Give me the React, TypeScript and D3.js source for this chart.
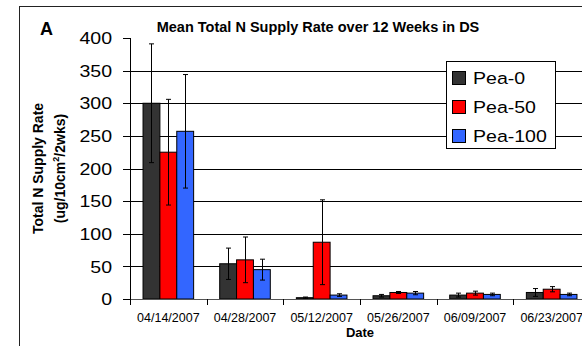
import React from "react";
import * as d3 from "d3";

const categories = ["04/14/2007", "04/28/2007", "05/12/2007", "05/26/2007", "06/09/2007", "06/23/2007"];
const seriesNames = ["Pea-0", "Pea-50", "Pea-100"];
const seriesColors = ["#333333", "#ff0000", "#3366ff"];
const pea0 = [300, 54, 2, 5, 6, 10];
const pea50 = [225, 60, 87, 10, 9, 15];
const pea100 = [257, 45, 6, 9, 7, 7];
const pea0Err = [91, 24, 1, 2, 3, 6];
const pea50Err = [81, 35, 65, 1.5, 3, 4];
const pea100Err = [87, 16, 2, 2.5, 2, 2];
const yTicks = [0, 50, 100, 150, 200, 250, 300, 350, 400];

const values = [pea0, pea50, pea100];
const errors = [pea0Err, pea50Err, pea100Err];

export default function App() {
  const W = 582, H = 346;
  const left = 130, right = 590, top = 38, bottom = 299;
  const x = d3.scaleBand().domain(categories).range([left, right]).paddingInner(0).paddingOuter(0);
  const bw = x.bandwidth();
  const groupPad = bw * 0.17;
  const xs = d3.scaleBand().domain(seriesNames).range([groupPad, bw - groupPad]).padding(0);
  const y = d3.scaleLinear().domain([0, 400]).range([bottom, top]);
  const font = "'Liberation Sans', Arial, sans-serif";
  const sx = 1.15;

  return (
    <svg width={W} height={H} style={{ position: "absolute", left: 0, top: 0, display: "block" }} fontFamily={font}>
      <rect x={0} y={0} width={W} height={H} fill="#fff" />
      <rect x={19.5} y={6.5} width={700} height={400} fill="none" stroke="#222" strokeWidth={1} />
      {/* gridlines */}
      {yTicks.filter(t => t > 0 && t < 400).map(t => (
        <line key={t} x1={left} x2={right} y1={Math.round(y(t)) + 0.5} y2={Math.round(y(t)) + 0.5} stroke="#000" strokeWidth={1} />
      ))}
      {/* bars */}
      {categories.map((c, ci) => (
        <g key={c}>
          {seriesNames.map((s, si) => {
            const bx = (x(c) as number) + (xs(s) as number);
            const v = values[si][ci];
            return (
              <rect key={s} x={bx} y={y(v)} width={xs.bandwidth()} height={bottom - y(v)} fill={seriesColors[si]} stroke="#000" strokeWidth={1} />
            );
          })}
        </g>
      ))}
      {/* error bars */}
      {categories.map((c, ci) => (
        <g key={c + "e"}>
          {seriesNames.map((s, si) => {
            const cx = Math.round((x(c) as number) + (xs(s) as number) + xs.bandwidth() / 2) + 0.5;
            const v = values[si][ci];
            const e = errors[si][ci];
            const y1 = y(v + e), y2 = y(Math.max(0, v - e));
            return (
              <g key={s} stroke="#000" strokeWidth={1}>
                <line x1={cx} x2={cx} y1={y1} y2={y2} />
                <line x1={cx - 2.5} x2={cx + 2.5} y1={y1} y2={y1} />
                <line x1={cx - 2.5} x2={cx + 2.5} y1={y2} y2={y2} />
              </g>
            );
          })}
        </g>
      ))}
      {/* axes */}
      <line x1={left + 0.5} x2={left + 0.5} y1={top} y2={bottom} stroke="#000" />
      <line x1={left} x2={right} y1={bottom + 0.5} y2={bottom + 0.5} stroke="#555" />
      {yTicks.map(t => (
        <g key={t}>
          <line x1={left - 7} x2={left} y1={Math.round(y(t)) + 0.5} y2={Math.round(y(t)) + 0.5} stroke="#000" />
          <text transform={`translate(${left - 18},${y(t)}) scale(${sx},1)`} dy="0.36em" textAnchor="end" fontSize={17} fill="#000">{t}</text>
        </g>
      ))}
      {categories.map((c, ci) => (
        <g key={c + "t"}>
          <line x1={Math.round(x(c) as number) + 0.5} x2={Math.round(x(c) as number) + 0.5} y1={bottom} y2={bottom + 6} stroke="#000" />
          <text x={(x(c) as number) + bw / 2} y={322} textAnchor="middle" fontSize={12.5} fill="#000">{c}</text>
        </g>
      ))}
      <text x={(left + right) / 2} y={337} textAnchor="middle" fontSize={13} fontWeight="bold">Date</text>
      {/* y title */}
      <text transform={`translate(43,${(top + bottom) / 2}) rotate(-90)`} textAnchor="middle" fontSize={14} fontWeight="bold">Total N Supply Rate</text>
      <text transform={`translate(65,${(top + bottom) / 2}) rotate(-90)`} textAnchor="middle" fontSize={14} fontWeight="bold">
        (ug/10cm<tspan fontSize={9} dy={-6}>2</tspan><tspan dy={6}>/2wks)</tspan>
      </text>
      {/* title */}
      <text x={318} y={32} textAnchor="middle" fontSize={14.5} fontWeight="bold">Mean Total N Supply Rate over 12 Weeks in DS</text>
      <text x={40} y={35} fontSize={18} fontWeight="bold">A</text>
      {/* legend */}
      <rect x={446.5} y={61.5} width={109} height={87} fill="#fff" stroke="#000" />
      {seriesNames.map((s, i) => (
        <g key={s}>
          <rect x={452.5} y={71.5 + i * 29} width={13} height={13} fill={seriesColors[i]} stroke="#000" />
          <text transform={`translate(473,${78 + i * 29}) scale(${sx},1)`} dy="0.36em" fontSize={17}>{s}</text>
        </g>
      ))}
    </svg>
  );
}
